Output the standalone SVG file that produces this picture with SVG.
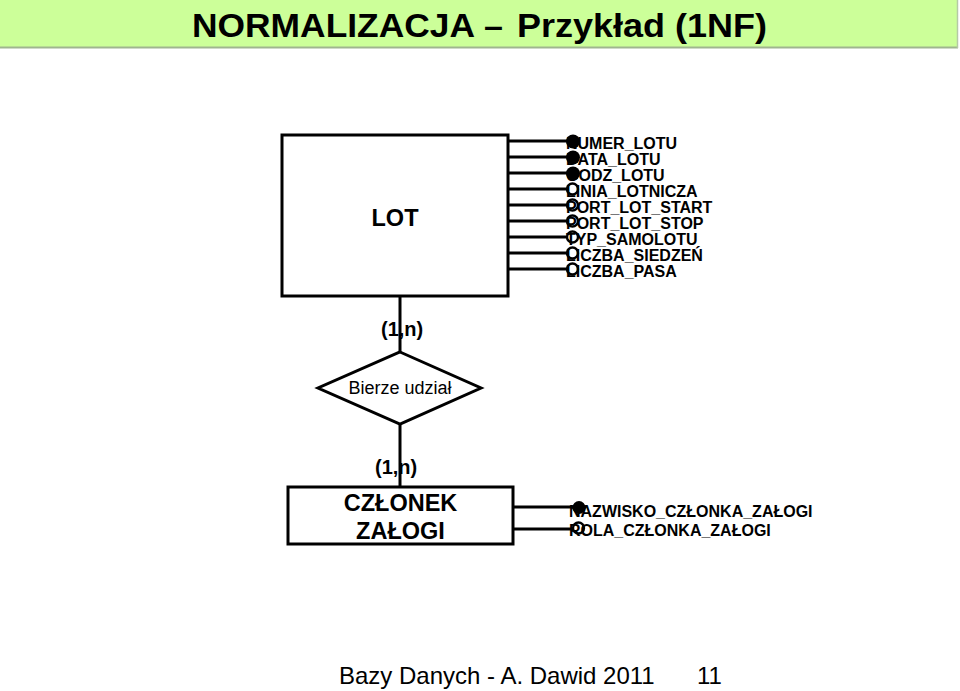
<svg xmlns="http://www.w3.org/2000/svg" width="960" height="691" viewBox="0 0 960 691">
<style>
  text { font-family: "Liberation Sans", Arial, sans-serif; fill: #000; }
  .title { font-size: 34px; font-weight: bold; }
  .box { fill: #fff; stroke: #000; stroke-width: 3; }
  .conn { stroke: #000; stroke-width: 3; fill: none; }
  .key { fill: #000; stroke: none; }
  .opt { fill: none; stroke: #000; stroke-width: 2.4; }
  .attr { font-size: 16px; font-weight: bold; }
  .ent { font-size: 23.5px; font-weight: bold; text-anchor: middle; }
  .rel { font-size: 18px; text-anchor: middle; }
  .card { font-size: 20px; font-weight: bold; }
  .foot { font-size: 24px; }
</style>
<rect width="960" height="691" fill="#fff"/>

<g id="title">
  <rect x="0" y="0" width="957" height="47" fill="#CCFF99"/>
  <line x1="0" y1="47.5" x2="958" y2="47.5" stroke="#9FB58F" stroke-width="2"/>
  <line x1="957.5" y1="0" x2="957.5" y2="48" stroke="#B5C9A5" stroke-width="1.5"/>
  <text class="title" y="37"><tspan x="192" textLength="283" lengthAdjust="spacingAndGlyphs">NORMALIZACJA</tspan><tspan x="484">–</tspan><tspan x="517" textLength="250" lengthAdjust="spacingAndGlyphs">Przykład (1NF)</tspan></text>
</g>

<g id="connectors">
  <line class="conn" x1="400" y1="296" x2="400" y2="352"/>
  <line class="conn" x1="400" y1="424" x2="400" y2="487"/>
  <line class="conn" x1="508" y1="141" x2="567" y2="141"/>
  <line class="conn" x1="508" y1="157" x2="567" y2="157"/>
  <line class="conn" x1="508" y1="173" x2="567" y2="173"/>
  <line class="conn" x1="508" y1="189" x2="567" y2="189"/>
  <line class="conn" x1="508" y1="205" x2="567" y2="205"/>
  <line class="conn" x1="508" y1="221" x2="567" y2="221"/>
  <line class="conn" x1="508" y1="237" x2="567" y2="237"/>
  <line class="conn" x1="508" y1="253" x2="567" y2="253"/>
  <line class="conn" x1="508" y1="269" x2="567" y2="269"/>
  <line class="conn" x1="513" y1="507" x2="573" y2="507"/>
  <line class="conn" x1="513" y1="529" x2="573" y2="529"/>
</g>

<g id="node-lot">
  <rect class="box" x="282" y="135" width="226" height="161"/>
  <text class="ent" x="395" y="226">LOT</text>
</g>

<g id="lot-attributes">
  <g id="attr-numer-lotu"><text class="attr" x="566" y="149">NUMER_LOTU</text><circle class="key" cx="573" cy="141.5" r="7"/></g>
  <g id="attr-data-lotu"><text class="attr" x="566" y="165">DATA_LOTU</text><circle class="key" cx="573" cy="157.5" r="7"/></g>
  <g id="attr-godz-lotu"><text class="attr" x="566" y="181">GODZ_LOTU</text><circle class="key" cx="573" cy="173.5" r="7"/></g>
  <g id="attr-linia"><text class="attr" x="566" y="197">LINIA_LOTNICZA</text><circle class="opt" cx="572.5" cy="189" r="5.5"/></g>
  <g id="attr-port-start"><text class="attr" x="566" y="213">PORT_LOT_START</text><circle class="opt" cx="572.5" cy="205" r="5.5"/></g>
  <g id="attr-port-stop"><text class="attr" x="566" y="229">PORT_LOT_STOP</text><circle class="opt" cx="572.5" cy="221" r="5.5"/></g>
  <g id="attr-typ"><text class="attr" x="566" y="245">TYP_SAMOLOTU</text><circle class="opt" cx="572.5" cy="237" r="5.5"/></g>
  <g id="attr-siedzen"><text class="attr" x="566" y="261">LICZBA_SIEDZEŃ</text><circle class="opt" cx="572.5" cy="253" r="5.5"/></g>
  <g id="attr-pasa"><text class="attr" x="566" y="277">LICZBA_PASA</text><circle class="opt" cx="572.5" cy="269" r="5.5"/></g>
</g>

<g id="card-top"><text class="card" x="381" y="336">(1,n)</text></g>

<g id="node-bierze-udzial">
  <polygon class="box" points="400,352 481,388 400,424 318,388"/>
  <text class="rel" x="400" y="394">Bierze udział</text>
</g>

<g id="card-bottom"><text class="card" x="375" y="474">(1,n)</text></g>

<g id="node-czlonek">
  <rect class="box" x="288" y="487" width="225" height="57"/>
  <text class="ent" x="400.5" y="511">CZŁONEK</text>
  <text class="ent" x="400.5" y="539">ZAŁOGI</text>
</g>

<g id="czlonek-attributes">
  <g id="attr-nazwisko"><text class="attr" x="569" y="517">NAZWISKO_CZŁONKA_ZAŁOGI</text><circle class="key" cx="579" cy="507.5" r="6.5"/></g>
  <g id="attr-rola"><text class="attr" x="569" y="536">ROLA_CZŁONKA_ZAŁOGI</text><circle class="opt" cx="578.5" cy="528" r="5.5"/></g>
</g>

<g id="footer">
  <text class="foot" x="339" y="684">Bazy Danych - A. Dawid 2011</text>
  <text class="foot" x="697" y="684">11</text>
</g>
</svg>
